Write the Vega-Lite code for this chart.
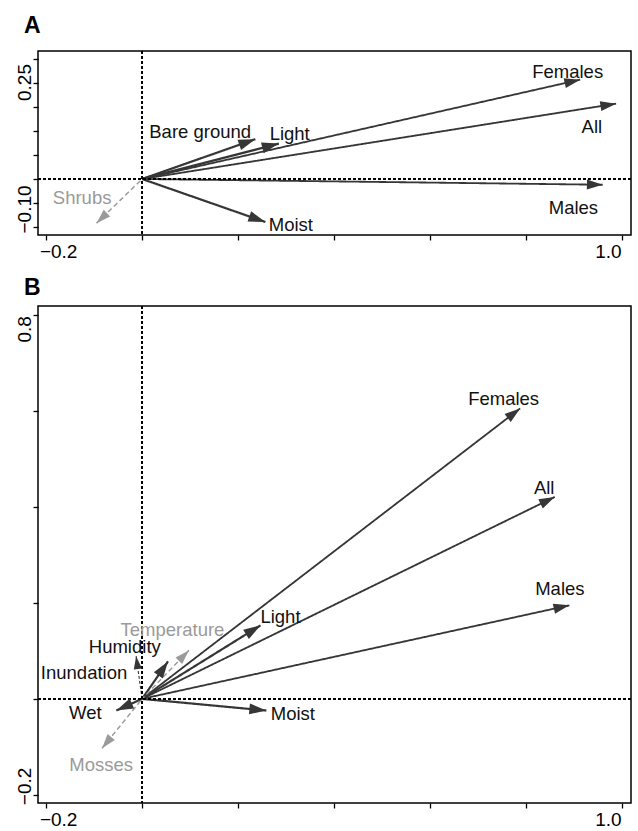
{
  "$schema": "https://vega.github.io/schema/vega-lite/v6.json",
  "padding": {"left": 14, "top": 13, "right": 2, "bottom": 2},
  "bounds": "flush",
  "spacing": 71,
  "config": {
    "view": {"stroke": "#000", "strokeWidth": 1.5},
    "font": "Liberation Sans",
    "axis": {"domain": false, "grid": false, "tickColor": "#000", "tickWidth": 1.3, "tickSize": 5, "tickCount": 20, "labelFont": "Liberation Sans", "labelFontSize": 19, "labelColor": "#000", "labelOverlap": false, "labelFlush": false}
  },
  "datasets": {
    "A": [
      {"name": "Bare ground", "kind": "strong", "x": 0.236, "y": 0.083, "lx": 0.121, "ly": 0.0855},
      {"name": "Light", "kind": "strong", "x": 0.285, "y": 0.0737, "lx": 0.3076, "ly": 0.0813},
      {"name": "Moist", "kind": "strong", "x": 0.257, "y": -0.0897, "lx": 0.31, "ly": -0.1084},
      {"name": "Females", "kind": "thin", "x": 0.913, "y": 0.207, "lx": 0.887, "ly": 0.2106},
      {"name": "All", "kind": "thin", "x": 0.988, "y": 0.157, "lx": 0.9374, "ly": 0.0966},
      {"name": "Males", "kind": "thin", "x": 0.96, "y": -0.012, "lx": 0.899, "ly": -0.0724},
      {"name": "Shrubs", "kind": "nonsig", "x": -0.095, "y": -0.092, "lx": -0.125, "ly": -0.0515}
    ],
    "B": [
      {"name": "Females", "kind": "thin", "x": 0.788, "y": 0.605, "lx": 0.7535, "ly": 0.612},
      {"name": "All", "kind": "thin", "x": 0.86, "y": 0.4206, "lx": 0.838, "ly": 0.4263},
      {"name": "Males", "kind": "thin", "x": 0.8905, "y": 0.1948, "lx": 0.8707, "ly": 0.2169},
      {"name": "Light", "kind": "strong", "x": 0.2467, "y": 0.153, "lx": 0.2884, "ly": 0.1585},
      {"name": "Moist", "kind": "strong", "x": 0.259, "y": -0.0243, "lx": 0.3143, "ly": -0.043},
      {"name": "Humidity", "kind": "strong", "x": 0.054, "y": 0.078, "lx": -0.0361, "ly": 0.0959},
      {"name": "Wet", "kind": "strong", "x": -0.0536, "y": -0.0243, "lx": -0.1182, "ly": -0.0417},
      {"name": "Inundation", "kind": "dashed", "x": -0.0125, "y": 0.089, "lx": -0.121, "ly": 0.0405},
      {"name": "Temperature", "kind": "nonsig", "x": 0.0974, "y": 0.101, "lx": 0.0632, "ly": 0.1308},
      {"name": "Mosses", "kind": "nonsig", "x": -0.0834, "y": -0.1028, "lx": -0.0855, "ly": -0.1493}
    ]
  },
  "vconcat": [
    {
      "width": 593,
      "height": 184,
      "title": {"text": "A", "anchor": "start", "frame": "group", "dx": -14, "offset": -5, "fontSize": 23, "fontWeight": "bold", "font": "Liberation Sans", "baseline": "alphabetic", "color": "#000"},
      "data": {"name": "A"},
      "transform": [{"calculate": "atan2(datum.x, datum.y) * 180 / PI", "as": "bearing"}],
      "layer": [
        {
          "mark": {"type": "rule"},
          "encoding": {
            "x": {"field": "x", "type": "quantitative", "scale": {"domain": [-0.217, 1.019], "nice": false, "zero": false},
              "axis": {"title": null, "tickCount": 20, "values": [-0.2, 0, 0.2, 0.4, 0.6, 0.8, 1.0], "format": ".1f", "labelExpr": "datum.value == -0.2 || datum.value == 1 ? datum.label : ''", "labelAlign": "center", "labelOffset": {"condition": {"test": "datum.value < 0", "value": 12}, "value": -14}, "labelPadding": 2}},
            "y": {"field": "y", "type": "quantitative", "scale": {"domain": [-0.1167, 0.2667], "nice": false, "zero": false},
              "axis": {"title": null, "tickCount": 20, "values": [-0.1, -0.05, 0, 0.05, 0.1, 0.15, 0.2, 0.25], "format": ".2f", "labelExpr": "datum.value == 0.25 || datum.value == -0.1 ? datum.label : ''", "labelAngle": 270, "labelBaseline": "alphabetic", "labelAlign": "center", "labelOffset": {"condition": {"test": "datum.value > 0", "value": 23}, "value": -18}, "labelPadding": 3}},
            "x2": {"datum": 0},
            "y2": {"datum": 0},
            "color": {"field": "kind", "type": "nominal", "scale": {"domain": ["strong", "thin", "nonsig", "dashed"], "range": ["#363636", "#363636", "#9a9a9a", "#363636"]}, "legend": null},
            "strokeWidth": {"field": "kind", "type": "ordinal", "scale": {"domain": ["strong", "thin", "nonsig", "dashed"], "range": [2.2, 1.1, 2, 1.5]}, "legend": null},
            "strokeDash": {"field": "kind", "type": "nominal", "scale": {"domain": ["strong", "thin", "nonsig", "dashed"], "range": [[1, 0], [1, 0], [5, 3], [3, 2]]}, "legend": null}
          }
        },
        {
          "mark": {"type": "rule", "strokeDash": [3, 2], "strokeWidth": 1, "color": "#000"},
          "encoding": {"y": {"datum": 0, "type": "quantitative"}}
        },
        {
          "mark": {"type": "rule", "strokeDash": [3, 2], "strokeWidth": 1, "color": "#000"},
          "encoding": {"x": {"datum": 0, "type": "quantitative"}}
        },
        {
          "mark": {"type": "point", "shape": "M0,0L-0.32,1L0.32,1Z", "filled": true, "opacity": 1, "strokeWidth": 0},
          "encoding": {
            "x": {"field": "x", "type": "quantitative"},
            "y": {"field": "y", "type": "quantitative"},
            "angle": {"field": "bearing", "type": "quantitative", "scale": null},
            "color": {"field": "kind", "type": "nominal", "legend": null},
            "size": {"field": "kind", "type": "ordinal", "scale": {"domain": ["strong", "thin", "nonsig", "dashed"], "range": [1156, 676, 676, 576]}, "legend": null}
          }
        },
        {
          "mark": {"type": "text", "align": "center", "baseline": "alphabetic", "fontSize": 18.5, "font": "Liberation Sans"},
          "encoding": {
            "x": {"field": "lx", "type": "quantitative"},
            "y": {"field": "ly", "type": "quantitative"},
            "text": {"field": "name"},
            "color": {"condition": {"test": "datum.kind == 'nonsig'", "value": "#9a9a9a"}, "value": "#111111"}
          }
        }
      ]
    },
    {
      "width": 593,
      "height": 497,
      "title": {"text": "B", "anchor": "start", "frame": "group", "dx": -14, "offset": -12, "fontSize": 23, "fontWeight": "bold", "font": "Liberation Sans", "baseline": "alphabetic", "color": "#000"},
      "data": {"name": "B"},
      "transform": [{"calculate": "atan2(datum.x, datum.y) * 180 / PI", "as": "bearing"}],
      "layer": [
        {
          "mark": {"type": "rule"},
          "encoding": {
            "x": {"field": "x", "type": "quantitative", "scale": {"domain": [-0.217, 1.019], "nice": false, "zero": false},
              "axis": {"title": null, "tickCount": 20, "values": [-0.2, 0, 0.2, 0.4, 0.6, 0.8, 1.0], "format": ".1f", "labelExpr": "datum.value == -0.2 || datum.value == 1 ? datum.label : ''", "labelAlign": "center", "labelOffset": {"condition": {"test": "datum.value < 0", "value": 12}, "value": -14}, "labelPadding": 2}},
            "y": {"field": "y", "type": "quantitative", "scale": {"domain": [-0.2169, 0.8183], "nice": false, "zero": false},
              "axis": {"title": null, "tickCount": 20, "values": [-0.2, 0, 0.2, 0.4, 0.6, 0.8], "format": ".1f", "labelExpr": "datum.value == 0.8 || datum.value == -0.2 ? datum.label : ''", "labelAngle": 270, "labelBaseline": "alphabetic", "labelAlign": "center", "labelOffset": {"condition": {"test": "datum.value > 0", "value": 14}, "value": -9}, "labelPadding": 3}},
            "x2": {"datum": 0},
            "y2": {"datum": 0},
            "color": {"field": "kind", "type": "nominal", "scale": {"domain": ["strong", "thin", "nonsig", "dashed"], "range": ["#363636", "#363636", "#9a9a9a", "#363636"]}, "legend": null},
            "strokeWidth": {"field": "kind", "type": "ordinal", "scale": {"domain": ["strong", "thin", "nonsig", "dashed"], "range": [2.2, 1.1, 2, 1.5]}, "legend": null},
            "strokeDash": {"field": "kind", "type": "nominal", "scale": {"domain": ["strong", "thin", "nonsig", "dashed"], "range": [[1, 0], [1, 0], [5, 3], [3, 2]]}, "legend": null}
          }
        },
        {
          "mark": {"type": "rule", "strokeDash": [3, 2], "strokeWidth": 1, "color": "#000"},
          "encoding": {"y": {"datum": 0, "type": "quantitative"}}
        },
        {
          "mark": {"type": "rule", "strokeDash": [3, 2], "strokeWidth": 1, "color": "#000"},
          "encoding": {"x": {"datum": 0, "type": "quantitative"}}
        },
        {
          "mark": {"type": "point", "shape": "M0,0L-0.32,1L0.32,1Z", "filled": true, "opacity": 1, "strokeWidth": 0},
          "encoding": {
            "x": {"field": "x", "type": "quantitative"},
            "y": {"field": "y", "type": "quantitative"},
            "angle": {"field": "bearing", "type": "quantitative", "scale": null},
            "color": {"field": "kind", "type": "nominal", "legend": null},
            "size": {"field": "kind", "type": "ordinal", "scale": {"domain": ["strong", "thin", "nonsig", "dashed"], "range": [1156, 676, 676, 576]}, "legend": null}
          }
        },
        {
          "mark": {"type": "text", "align": "center", "baseline": "alphabetic", "fontSize": 18.5, "font": "Liberation Sans"},
          "encoding": {
            "x": {"field": "lx", "type": "quantitative"},
            "y": {"field": "ly", "type": "quantitative"},
            "text": {"field": "name"},
            "color": {"condition": {"test": "datum.kind == 'nonsig'", "value": "#9a9a9a"}, "value": "#111111"}
          }
        }
      ]
    }
  ]
}
